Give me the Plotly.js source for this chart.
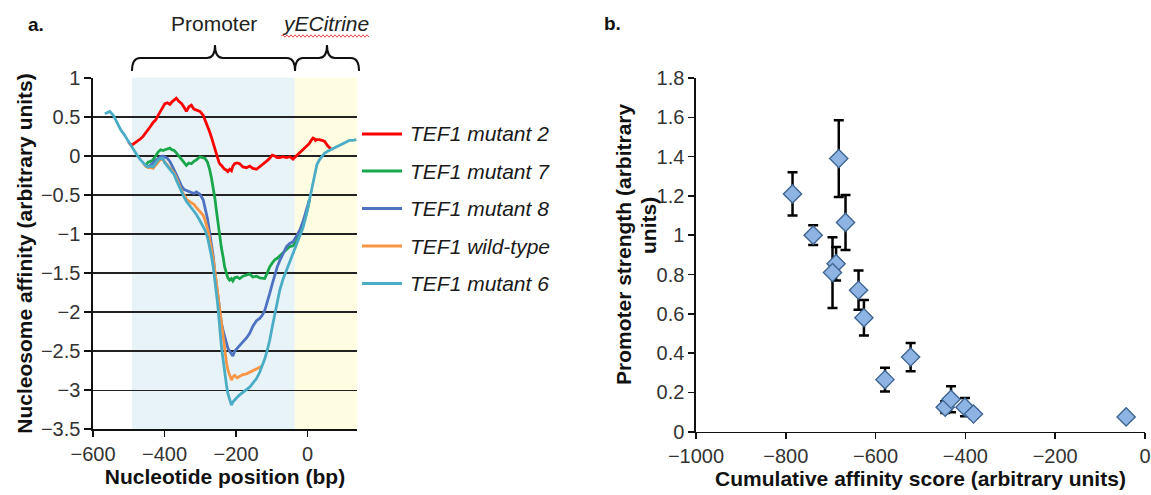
<!DOCTYPE html>
<html>
<head>
<meta charset="utf-8">
<script src="https://cdn.plot.ly/plotly-3.0.1.min.js"></script>
<style>html,body{margin:0;padding:0;background:#fff}#chart{width:1151px;height:495px}</style>
</head>
<body>
<div id="chart"></div>
<script>
// ---------- Panel a data ----------
const seriesNames = ['TEF1 mutant 2', 'TEF1 mutant 7', 'TEF1 mutant 8', 'TEF1 wild-type', 'TEF1 mutant 6'];
const seriesColors = ['#ff0000', '#1aa64b', '#4f72c0', '#f79646', '#4bacc6'];

const mutant6Bp = [-567,-560,-553,-543,-536,-529,-522,-515,-508,-501,-494,-488,-481,-474,-467,-460,-453,-446,-439,-432,-425,-418,-411,-404,-399,-392,-385,-380,-373,-367,-360,-352,-345,-339,-332,-325,-318,-311,-301,-292,-287,-280,-274,-269,-264,-259,-255,-251,-248,-244,-241,-236,-232,-227,-223,-218,-213,-209,-204,-197,-190,-181,-171,-162,-153,-143,-134,-127,-120,-113,-106,-99,-92,-85,-78,-69,-59,-50,-41,-32,-22,-13,-4,1,5,10,15,19,22,26,33,40,47,56,66,73,80,90,99,108,117,127,136];
const mutant6 = [0.54,0.56,0.57,0.52,0.45,0.38,0.33,0.29,0.24,0.18,0.13,0.08,0.03,-0.01,-0.05,-0.09,-0.12,-0.14,-0.13,-0.14,-0.10,-0.05,-0.03,-0.04,-0.09,-0.13,-0.16,-0.19,-0.24,-0.31,-0.38,-0.48,-0.53,-0.58,-0.62,-0.66,-0.70,-0.75,-0.83,-0.90,-0.95,-1.04,-1.16,-1.28,-1.42,-1.58,-1.76,-1.92,-2.10,-2.27,-2.44,-2.62,-2.79,-2.93,-3.04,-3.12,-3.19,-3.15,-3.13,-3.09,-3.06,-3.03,-3.00,-2.96,-2.91,-2.85,-2.77,-2.69,-2.60,-2.49,-2.36,-2.19,-2.02,-1.87,-1.72,-1.58,-1.46,-1.35,-1.25,-1.14,-1.03,-0.92,-0.76,-0.65,-0.56,-0.48,-0.36,-0.26,-0.18,-0.11,-0.05,-0.01,0.035,0.06,0.085,0.10,0.12,0.14,0.16,0.18,0.20,0.20,0.21];

const wildTypeBp = [-460,-453,-446,-439,-432,-425,-418,-411,-404,-399,-392,-385,-380,-373,-367,-360,-352,-345,-339,-332,-325,-318,-311,-301,-292,-287,-280,-274,-269,-264,-259,-255,-251,-248,-244,-241,-236,-232,-227,-223,-218,-213,-209,-204,-197,-190,-181,-171,-162,-153,-143,-134,-127];
const wildType = [-0.09,-0.13,-0.15,-0.15,-0.16,-0.12,-0.07,-0.04,-0.05,-0.08,-0.12,-0.15,-0.18,-0.22,-0.28,-0.36,-0.45,-0.50,-0.55,-0.58,-0.60,-0.62,-0.66,-0.71,-0.76,-0.82,-0.93,-1.06,-1.18,-1.32,-1.48,-1.63,-1.78,-1.90,-2.04,-2.18,-2.36,-2.52,-2.64,-2.74,-2.82,-2.87,-2.83,-2.81,-2.84,-2.82,-2.80,-2.79,-2.77,-2.75,-2.73,-2.71,-2.69];

const mutant8Bp = [-446,-439,-432,-425,-418,-411,-404,-399,-392,-385,-380,-373,-367,-360,-352,-345,-339,-332,-325,-318,-311,-301,-292,-287,-280,-274,-269,-264,-259,-255,-251,-248,-244,-241,-236,-232,-227,-223,-218,-213,-209,-204,-197,-190,-181,-171,-162,-153,-143,-134,-127,-120,-113,-106,-99,-92,-85,-78,-69,-59,-50,-41,-32,-22,-13,-4,1,5];
const mutant8 = [-0.14,-0.12,-0.09,-0.06,-0.03,-0.01,0.00,-0.01,-0.03,-0.07,-0.11,-0.18,-0.24,-0.32,-0.39,-0.43,-0.44,-0.45,-0.47,-0.48,-0.46,-0.49,-0.56,-0.65,-0.80,-0.98,-1.12,-1.28,-1.50,-1.66,-1.82,-1.94,-2.05,-2.14,-2.24,-2.32,-2.41,-2.46,-2.50,-2.53,-2.56,-2.50,-2.46,-2.42,-2.38,-2.33,-2.27,-2.18,-2.11,-2.08,-2.04,-1.98,-1.88,-1.76,-1.64,-1.52,-1.42,-1.34,-1.25,-1.16,-1.12,-1.10,-1.03,-0.95,-0.84,-0.71,-0.63,-0.56];

const mutant7Bp = [-453,-446,-439,-432,-425,-418,-411,-404,-399,-392,-385,-380,-373,-367,-360,-352,-345,-339,-332,-325,-318,-311,-301,-292,-287,-280,-274,-269,-264,-259,-255,-251,-248,-244,-241,-236,-232,-227,-223,-218,-213,-209,-204,-197,-190,-181,-171,-162,-153,-143,-134,-127,-120,-113,-106,-99,-92,-85,-78,-69,-59,-50,-41,-32,-22,-13,-4,1,5];
const mutant7 = [-0.12,-0.08,-0.07,-0.05,0.00,0.05,0.08,0.07,0.08,0.09,0.10,0.08,0.07,0.04,0.00,-0.06,-0.10,-0.12,-0.09,-0.10,-0.07,-0.05,-0.01,-0.02,-0.03,-0.08,-0.17,-0.28,-0.40,-0.55,-0.70,-0.85,-0.97,-1.08,-1.18,-1.30,-1.42,-1.50,-1.56,-1.59,-1.57,-1.60,-1.56,-1.55,-1.57,-1.54,-1.52,-1.51,-1.55,-1.54,-1.56,-1.57,-1.57,-1.50,-1.42,-1.37,-1.33,-1.31,-1.28,-1.23,-1.19,-1.16,-1.15,-1.10,-0.99,-0.88,-0.74,-0.66,-0.56];

const mutant2Bp = [-501,-494,-488,-481,-474,-467,-460,-453,-446,-439,-432,-425,-418,-411,-404,-399,-392,-385,-380,-373,-367,-360,-352,-345,-339,-332,-325,-318,-311,-301,-292,-287,-280,-274,-269,-264,-259,-255,-251,-248,-244,-241,-236,-232,-227,-223,-218,-213,-209,-204,-197,-190,-181,-171,-162,-153,-143,-134,-127,-120,-113,-106,-99,-92,-85,-78,-69,-59,-50,-41,-32,-22,-13,-4,1,5,10,15,19,22,26,33,40,47,56,66];
const mutant2 = [0.18,0.14,0.15,0.17,0.19,0.22,0.25,0.29,0.33,0.38,0.43,0.46,0.52,0.57,0.62,0.67,0.68,0.66,0.69,0.72,0.74,0.70,0.67,0.62,0.57,0.63,0.65,0.60,0.59,0.57,0.52,0.46,0.40,0.31,0.24,0.16,0.07,0.01,-0.04,-0.08,-0.11,-0.12,-0.15,-0.17,-0.18,-0.20,-0.17,-0.19,-0.13,-0.10,-0.09,-0.10,-0.14,-0.15,-0.13,-0.16,-0.17,-0.14,-0.11,-0.09,-0.06,-0.03,0.01,0.00,-0.02,-0.02,-0.01,-0.02,-0.01,-0.04,0.00,0.05,0.09,0.12,0.14,0.16,0.20,0.23,0.22,0.20,0.21,0.21,0.20,0.19,0.13,0.085];

const regionBounds = [-491, -36, 138];   // promoter start, yECitrine start, plotted end
const xTicksA = [-600, -400, -200, 0];
const xTickTextA = ['\u2212600', '\u2212400', '\u2212200', '0'];
const yTicksA = [1, 0.5, 0, -0.5, -1, -1.5, -2, -2.5, -3, -3.5];
const yTickTextA = ['1', '0.5', '0', '\u22120.5', '\u22121', '\u22121.5', '\u22122', '\u22122.5', '\u22123', '\u22123.5'];

// ---------- Panel b data ----------
const affinityScore = [-785, -739, -682, -667, -688, -696, -638, -626, -579, -522, -445, -432, -401, -382, -42];
const promoterStrength = [1.21, 1.00, 1.39, 1.065, 0.855, 0.81, 0.72, 0.58, 0.265, 0.38, 0.125, 0.165, 0.125, 0.09, 0.075];
const strengthError = [0.11, 0.05, 0.195, 0.14, 0.085, 0.18, 0.10, 0.09, 0.06, 0.072, 0.03, 0.066, 0.047, 0.02, 0.0];
const xTicksB = [-1000, -800, -600, -400, -200, 0];
const xTickTextB = ['\u22121000', '\u2212800', '\u2212600', '\u2212400', '\u2212200', '0'];
const yTicksB = [0, 0.2, 0.4, 0.6, 0.8, 1, 1.2, 1.4, 1.6, 1.8];
const yTickTextB = ['0', '0.2', '0.4', '0.6', '0.8', '1', '1.2', '1.4', '1.6', '1.8'];

// ---------- Build ----------
const W = 1151, H = 495;
const PX = x => x / W;
const PY = y => 1 - y / H;
const FONT = 'Liberation Sans, Arial, sans-serif';

const seriesX = [mutant2Bp, mutant7Bp, mutant8Bp, wildTypeBp, mutant6Bp];
const seriesY = [mutant2, mutant7, mutant8, wildType, mutant6];

const traces = seriesNames.map((n, i) => ({
  type: 'scatter', mode: 'lines', name: n,
  x: seriesX[i], y: seriesY[i], xaxis: 'x', yaxis: 'y',
  line: {color: seriesColors[i], width: 2.8},
  showlegend: false, hoverinfo: 'skip'
}));

traces.push({
  type: 'scatter', mode: 'markers', name: 'Promoters',
  x: affinityScore, y: promoterStrength, xaxis: 'x2', yaxis: 'y2',
  marker: {symbol: 'diamond', size: 14, color: '#8eb4e3', line: {color: '#3f6592', width: 1.4}},
  error_y: {type: 'data', array: strengthError, visible: true, color: '#000', thickness: 2.5, width: 5},
  showlegend: false
});

function brace(x0, x1, xm, r) {
  const yt = 71, yl = 58, yp = 45;
  const p = (x, y) => PX(x) + ',' + PY(y);
  return 'M' + p(x0, yt) + ' Q' + p(x0, yl) + ' ' + p(x0 + r, yl) +
    ' L' + p(xm - r, yl) + ' Q' + p(xm, yl) + ' ' + p(xm, yp) +
    ' Q' + p(xm, yl) + ' ' + p(xm + r, yl) +
    ' L' + p(x1 - r, yl) + ' Q' + p(x1, yl) + ' ' + p(x1, yt);
}
function wavy(x0, x1, y) {
  let s = 'M' + PX(x0) + ',' + PY(y);
  let up = true;
  for (let x = x0 + 2; x <= x1; x += 2) { s += ' L' + PX(x) + ',' + PY(y + (up ? -1.2 : 1.2)); up = !up; }
  return s;
}

const shapes = [
  {type: 'rect', xref: 'x', yref: 'y domain', x0: regionBounds[0], x1: regionBounds[1], y0: 0, y1: 1,
   fillcolor: '#e8f3f8', line: {width: 0}, layer: 'below'},
  {type: 'rect', xref: 'x', yref: 'y domain', x0: regionBounds[1], x1: regionBounds[2], y0: 0, y1: 1,
   fillcolor: '#fffde1', line: {width: 0}, layer: 'below'},
  {type: 'path', xref: 'paper', yref: 'paper', path: brace(132, 295, 215, 8), line: {color: '#111', width: 2}},
  {type: 'path', xref: 'paper', yref: 'paper', path: brace(295, 359, 327, 8), line: {color: '#111', width: 2}},
  {type: 'path', xref: 'paper', yref: 'paper', path: wavy(281, 370, 36), line: {color: '#e8484a', width: 1}}
];

const ann = (text, x, y, size, extra) => Object.assign({
  text: text, x: PX(x), y: PY(y), xref: 'paper', yref: 'paper', showarrow: false,
  xanchor: 'center', yanchor: 'middle', font: {size: size, color: '#111', family: FONT}
}, extra || {});

const annotations = [
  ann('<b>a.</b>', 36, 25, 19),
  ann('<b>b.</b>', 612, 24, 19),
  ann('Promoter', 214, 24, 21, {font: {size: 21, color: '#222', family: FONT}}),
  ann('<i>yECitrine</i>', 325, 24, 21, {font: {size: 21, color: '#222', family: FONT}}),
  ann('<b>Promoter strength (arbitrary</b>', 623, 244, 21, {textangle: -90}),
  ann('<b>units)</b>', 648, 226, 21, {textangle: -90})
];

const legendRows = [134, 171, 208.5, 246, 283.5];
seriesNames.forEach((n, i) => {
  shapes.push({type: 'line', xref: 'paper', yref: 'paper', x0: PX(362), x1: PX(402), y0: PY(legendRows[i]), y1: PY(legendRows[i]),
    line: {color: seriesColors[i], width: 2.8}});
  annotations.push(ann('<i>' + n + '</i>', 408, legendRows[i], 21, {xanchor: 'left', font: {size: 21, color: '#1a1a1a', family: FONT}}));
});

const axisCommon = {
  showline: true, linecolor: '#111', linewidth: 1.6, ticks: 'outside', tickcolor: '#111', tickwidth: 1.6,
  zeroline: false, tickfont: {size: 20, color: '#333', family: FONT}, fixedrange: true
};

const layout = {
  width: W, height: H, margin: {l: 0, r: 0, t: 0, b: 0},
  paper_bgcolor: '#fff', plot_bgcolor: 'rgba(0,0,0,0)',
  font: {family: FONT, color: '#222'},
  showlegend: false,
  xaxis: Object.assign({}, axisCommon, {
    domain: [PX(93), PX(357)], range: [-600, regionBounds[2]], anchor: 'y',
    tickmode: 'array', tickvals: xTicksA, ticktext: xTickTextA, ticklen: 6, showgrid: false,
    title: {text: '<b>Nucleotide position (bp)</b>', font: {size: 21, color: '#111'}, standoff: 4}
  }),
  yaxis: Object.assign({}, axisCommon, {
    domain: [PY(429.3), PY(77.7)], range: [-3.5, 1.002], anchor: 'x',
    tickmode: 'array', tickvals: yTicksA, ticktext: yTickTextA, ticklen: 7,
    showgrid: true, gridcolor: '#222', gridwidth: 1.5,
    title: {text: '<b>Nucleosome affinity (arbitrary units)</b>', font: {size: 21, color: '#111'}, standoff: 2}
  }),
  xaxis2: Object.assign({}, axisCommon, {
    domain: [PX(696), PX(1145)], range: [-1000, 0], anchor: 'y2',
    tickmode: 'array', tickvals: xTicksB, ticktext: xTickTextB, ticklen: 6, showgrid: false,
    title: {text: '<b>Cumulative affinity score (arbitrary units)</b>', font: {size: 21, color: '#111'}, standoff: 2}
  }),
  yaxis2: Object.assign({}, axisCommon, {
    domain: [PY(431.7), PY(78)], range: [0, 1.8], anchor: 'x2',
    tickmode: 'array', tickvals: yTicksB, ticktext: yTickTextB, ticklen: 6, showgrid: false
  }),
  shapes: shapes,
  annotations: annotations
};

Plotly.newPlot('chart', traces, layout, {displayModeBar: false, staticPlot: true});
</script>
</body>
</html>
